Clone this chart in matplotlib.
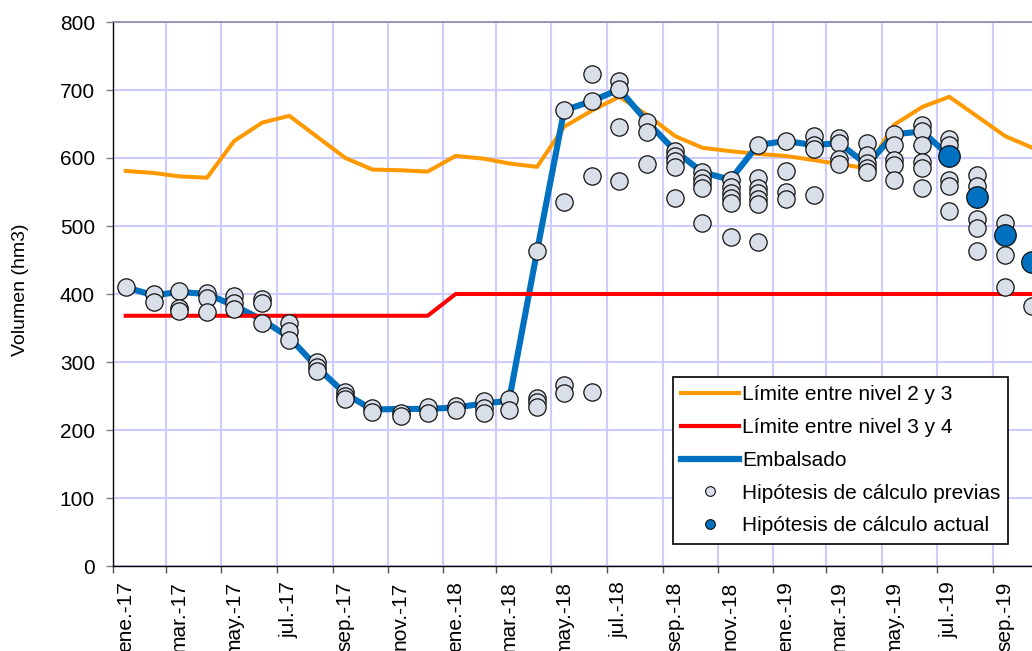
import matplotlib
matplotlib.use('Agg')
import matplotlib.pyplot as plt
import matplotlib.dates as mdates
from matplotlib.lines import Line2D
from matplotlib.ticker import FuncFormatter, NullFormatter, MultipleLocator
import pandas as pd

plt.rcParams['font.family'] = ['Liberation Sans', 'DejaVu Sans']
plt.rcParams['font.size'] = 15

# meses (puntos a mitad de mes), ene-17 ... oct-19
meses = pd.date_range('2017-01-01', '2019-10-01', freq='MS') + pd.Timedelta(days=14)
nombres_mes = ['ene', 'feb', 'mar', 'abr', 'may', 'jun', 'jul', 'ago', 'sep', 'oct', 'nov', 'dic']

limite_2_3 = [581, 578, 573, 571, 625, 652, 662, 631, 600, 583, 582, 580,
              603, 599, 592, 587, 646, 670, 690, 663, 632, 615, 610, 606,
              603, 597, 591, 585, 649, 675, 690, 661, 632, 615]
limite_3_4 = [368, 368, 368, 368, 368, 368, 368, 368, 368, 368, 368, 368,
              400, 400, 400, 400, 400, 400, 400, 400, 400, 400, 400, 400,
              400, 400, 400, 400, 400, 400, 400, 400, 400, 400]
# embalsado real hasta jul-19
embalsado = [410, 398, 403, 400, 383, 362, 336, 292, 253, 230, 231, 231,
             233, 239, 243, 463, 670, 684, 701, 653, 610, 579, 568, 619,
             625, 619, 622, 590, 635, 639, 603]

# hipotesis previas, una lista por mes
hip_previas = [
    [410],
    [400, 388],
    [404, 380, 375],
    [401, 394, 373],
    [397, 387, 378],
    [392, 387, 358],
    [357, 345, 333],
    [300, 293, 287],
    [256, 250, 245],
    [232, 227],
    [225, 221],
    [234, 225],
    [235, 229],
    [243, 232, 225],
    [245, 229],
    [463, 247, 241, 234],
    [670, 535, 266, 255],
    [723, 684, 573, 256],
    [713, 701, 645, 566],
    [653, 638, 591],
    [610, 603, 596, 587, 541],
    [579, 571, 563, 556, 504],
    [568, 558, 549, 541, 534, 484],
    [619, 571, 556, 548, 540, 532, 477],
    [625, 581, 550, 540],
    [632, 619, 613, 546],
    [629, 622, 598, 591],
    [622, 604, 592, 585, 580],
    [635, 619, 597, 589, 568],
    [648, 639, 619, 594, 586, 556],
    [628, 619, 568, 559, 522],
    [575, 559, 510, 497, 463],
    [504, 457, 410],
    [382],
]
hip_actual = [603, 543, 487, 447]  # jul-19 .. oct-19

c_naranja = '#FF9900'
c_rojo = '#FF0000'
c_azul = '#0070C0'
c_gris = '#D9DFE9'

fig = plt.figure(figsize=(10.32, 6.51), dpi=100)
# el eje sigue por la derecha mas alla del borde (recortado como en el original)
ax = fig.add_axes([113 / 1032, 85 / 651, 943 / 1032, 544 / 651])

ax.plot(meses, limite_2_3, color=c_naranja, lw=2.9, zorder=2)
ax.plot(meses[:len(embalsado)], embalsado, color=c_azul, lw=4.4, zorder=3)
ax.plot(meses, limite_3_4, color=c_rojo, lw=2.9, zorder=4)

xs, ys = [], []
for m, vals in zip(meses, hip_previas):
    for v in vals:
        xs.append(m)
        ys.append(v)
ax.scatter(xs, ys, s=155, color=c_gris, edgecolors='#111111', linewidths=0.9, zorder=5)
ax.scatter(meses[30:], hip_actual, s=240, color=c_azul, edgecolors='#111111', linewidths=0.9, zorder=6)

ax.set_ylim(0, 800)
ax.set_xlim(pd.Timestamp('2017-01-01'), pd.Timestamp('2019-11-10'))
ax.yaxis.set_major_locator(MultipleLocator(100))

ax.xaxis.set_major_locator(mdates.MonthLocator(bymonth=[1, 3, 5, 7, 9, 11]))
ax.xaxis.set_major_formatter(NullFormatter())
ax.xaxis.set_minor_locator(mdates.MonthLocator(bymonth=[1, 3, 5, 7, 9, 11], bymonthday=15))


def etiqueta(x, pos):
    d = mdates.num2date(x)
    return f'{nombres_mes[d.month - 1]}.-{d:%y}'


ax.xaxis.set_minor_formatter(FuncFormatter(etiqueta))
ax.tick_params(axis='x', which='minor', length=0, rotation=90, pad=11, labelsize=15)
ax.tick_params(axis='x', which='major', length=5, width=1, color='#555555', direction='out')
ax.tick_params(axis='y', length=5, width=1, color='#808080', pad=8, labelsize=15)
for lab in ax.get_xticklabels(minor=True):
    lab.set_verticalalignment('top')

ax.grid(True, which='major', color='#CCCCFF', lw=1.5, zorder=0)
ax.set_axisbelow(True)

ax.spines['left'].set_color('black')
ax.spines['left'].set_linewidth(1)
ax.spines['bottom'].set_color('black')
ax.spines['bottom'].set_linewidth(1)
ax.spines['top'].set_color('#8888AA')
ax.spines['top'].set_linewidth(1.2)
ax.spines['right'].set_visible(False)

fig.text(21 / 1032, 1 - 290 / 651, 'Volumen (hm3)', rotation=90, ha='center', va='center', fontsize=14)

handles = [
    Line2D([], [], color=c_naranja, lw=3),
    Line2D([], [], color=c_rojo, lw=3),
    Line2D([], [], color=c_azul, lw=4.5),
    Line2D([], [], ls='none', marker='o', ms=7, mfc=c_gris, mec='#111111', mew=0.8),
    Line2D([], [], ls='none', marker='o', ms=7, mfc=c_azul, mec='#111111', mew=0.8),
]
labels = ['Límite entre nivel 2 y 3', 'Límite entre nivel 3 y 4', 'Embalsado',
          'Hipótesis de cálculo previas', 'Hipótesis de cálculo actual']
leg = ax.legend(handles, labels, loc='upper left', bbox_to_anchor=(673 / 1032, 1 - 377 / 651),
                bbox_transform=fig.transFigure, borderaxespad=0, fancybox=False, framealpha=1,
                edgecolor='black', handlelength=2.75, handletextpad=0.15, labelspacing=0.66,
                borderpad=0.4, fontsize=15)
leg.get_frame().set_linewidth(1.2)
leg.set_zorder(10)

fig.savefig('out.png', dpi=100)
